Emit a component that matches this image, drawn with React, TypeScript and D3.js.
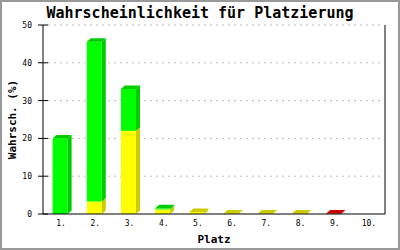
import React from "react";
import * as d3 from "d3";

const categories = ["1.", "2.", "3.", "4.", "5.", "6.", "7.", "8.", "9.", "10."];
const yellowValues = [0, 3.3, 22, 1.2, 0.5, 0.1, 0.1, 0.1, 0, 0];
const greenValues = [20, 42.3, 11.1, 0.3, 0, 0, 0, 0, 0, 0];
const redValues = [0, 0, 0, 0, 0, 0, 0, 0, 0.1, 0];
const yTicks = [0, 10, 20, 30, 40, 50];

const W = 400, H = 250;
const left = 43, right = 385, top = 25, bottom = 214;
const DX = 4, DY = 3.5;
const mono = "'DejaVu Sans Mono', monospace";

const series = [
  { values: yellowValues, front: "#ffff00", dark: "#cccc00" },
  { values: greenValues, front: "#00ff00", dark: "#00cc00" },
  { values: redValues, front: "#ff0000", dark: "#cc0000" },
];

export default function App() {
  const x = d3.scaleBand<string>().domain(categories).range([left, right]);
  const y = d3.scaleLinear().domain([0, 50]).range([bottom, top]);
  const bw = 15;

  const bars: React.ReactNode[] = [];
  categories.forEach((c, i) => {
    const cx = (x(c) as number) + x.bandwidth() / 2;
    const x0 = cx - bw / 2;
    let base = 0;
    let topSeg: { y: number; dark: string } | null = null;
    series.forEach((s, si) => {
      const v = s.values[i];
      if (v <= 0) return;
      const y0 = y(base);
      const y1 = y(base + v);
      bars.push(
        <g key={`${i}-${si}`}>
          <rect x={x0} y={y1} width={bw} height={y0 - y1} fill={s.front} />
          <polygon
            points={`${x0 + bw},${y1} ${x0 + bw + DX},${y1 - DY} ${x0 + bw + DX},${y0 - DY} ${x0 + bw},${y0}`}
            fill={s.dark}
          />
        </g>
      );
      base += v;
      topSeg = { y: y1, dark: s.dark };
    });
    if (topSeg) {
      const t = topSeg as { y: number; dark: string };
      bars.push(
        <polygon
          key={`top-${i}`}
          points={`${x0},${t.y} ${x0 + DX},${t.y - DY} ${x0 + bw + DX},${t.y - DY} ${x0 + bw},${t.y}`}
          fill={t.dark}
        />
      );
    }
  });

  return (
    <svg width={W} height={H} style={{ position: "absolute", left: 0, top: 0, background: "#fff" }}>
      <rect x={1} y={1} width={W - 2} height={H - 2} fill="#fff" stroke="#999" strokeWidth={2} />
      <text x={200} y={18} textAnchor="middle" fontFamily={mono} fontWeight="bold" fontSize={15} fill="#000">
        Wahrscheinlichkeit für Platzierung
      </text>
      {yTicks.filter((t) => t > 0).map((t) => (
        <line key={`g${t}`} x1={left + 5} x2={right - 2} y1={y(t)} y2={y(t)} stroke="#bbb" strokeDasharray="2,4" />
      ))}
      {bars}
      <line x1={left} x2={left} y1={top} y2={bottom} stroke="#000" />
      <line x1={right} x2={right} y1={top} y2={bottom} stroke="#000" />
      <line x1={left} x2={right} y1={bottom} y2={bottom} stroke="#000" />
      {yTicks.map((t) => (
        <g key={`t${t}`}>
          <line x1={left - 5} x2={left + 5} y1={y(t)} y2={y(t)} stroke="#000" />
          <text x={32} y={y(t) + 3} textAnchor="end" fontFamily={mono} fontSize={8} fill="#000">
            {t}
          </text>
        </g>
      ))}
      {categories.map((c) => (
        <text key={c} x={(x(c) as number) + x.bandwidth() / 2 + 1} y={226} textAnchor="middle" fontFamily={mono} fontSize={8} fill="#000">
          {c}
        </text>
      ))}
      <text x={214} y={243} textAnchor="middle" fontFamily={mono} fontWeight="bold" fontSize={11} fill="#000">
        Platz
      </text>
      <text transform={`translate(16,${(top + bottom) / 2}) rotate(-90)`} textAnchor="middle" fontFamily={mono} fontWeight="bold" fontSize={11} fill="#000">
        Wahrsch. (%)
      </text>
    </svg>
  );
}
